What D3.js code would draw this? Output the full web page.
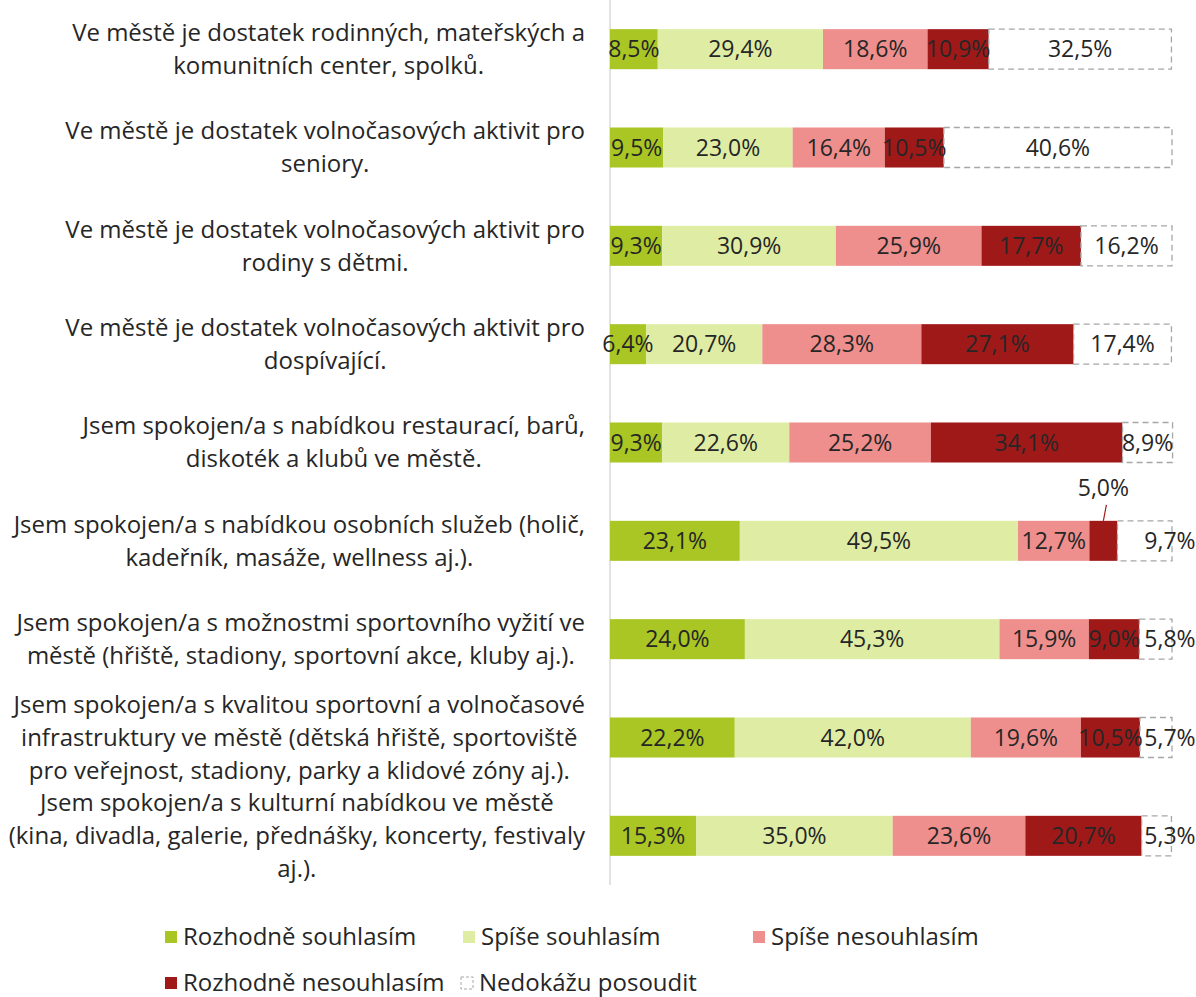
<!DOCTYPE html>
<html>
<head>
<meta charset="utf-8">
<script src="https://cdn.jsdelivr.net/npm/d3@7"></script>
<style>
  body { margin: 0; background: #fff; }
  svg { font-family: "Open Sans", sans-serif; }
</style>
</head>
<body>
<div class="chart"></div>
<script>
// data
var categories = [
    ["Ve městě je dostatek rodinných, mateřských a", "komunitních center, spolků."],
    ["Ve městě je dostatek volnočasových aktivit pro", "seniory."],
    ["Ve městě je dostatek volnočasových aktivit pro", "rodiny s dětmi."],
    ["Ve městě je dostatek volnočasových aktivit pro", "dospívající."],
    ["Jsem spokojen/a s nabídkou restaurací, barů,", "diskoték a klubů ve městě."],
    ["Jsem spokojen/a s nabídkou osobních služeb (holič,", "kadeřník, masáže, wellness aj.)."],
    ["Jsem spokojen/a s možnostmi sportovního vyžití ve", "městě (hřiště, stadiony, sportovní akce, kluby aj.)."],
    ["Jsem spokojen/a s kvalitou sportovní a volnočasové", "infrastruktury ve městě (dětská hřiště, sportoviště", "pro veřejnost, stadiony, parky a klidové zóny aj.)."],
    ["Jsem spokojen/a s kulturní nabídkou ve městě", "(kina, divadla, galerie, přednášky, koncerty, festivaly", "aj.)."]
];
var seriesNames = ["Rozhodně souhlasím", "Spíše souhlasím", "Spíše nesouhlasím", "Rozhodně nesouhlasím", "Nedokážu posoudit"];
var rozhodneSouhlasim = [8.5, 9.5, 9.3, 6.4, 9.3, 23.1, 24.0, 22.2, 15.3];
var spiseSouhlasim = [29.4, 23.0, 30.9, 20.7, 22.6, 49.5, 45.3, 42.0, 35.0];
var spiseNesouhlasim = [18.6, 16.4, 25.9, 28.3, 25.2, 12.7, 15.9, 19.6, 23.6];
var rozhodneNesouhlasim = [10.9, 10.5, 17.7, 27.1, 34.1, 5.0, 9.0, 10.5, 20.7];
var nedokazu = [32.5, 40.6, 16.2, 17.4, 8.9, 9.7, 5.8, 5.7, 5.3];
var colors = ["#a9c624", "#dfeda4", "#ee8f8d", "#a01919", "#ffffff"];

var series = [rozhodneSouhlasim, spiseSouhlasim, spiseNesouhlasim, rozhodneNesouhlasim, nedokazu];

// canvas
var width = 1196, height = 997;
var svg = d3.select(".chart").append("svg")
            .attr("width", width)
            .attr("height", height);

var x0 = 610, x1 = 1172;
var xScale = d3.scaleLinear().domain([0, 100]).range([x0, x1]);
var yScale = d3.scaleBand().domain(d3.range(categories.length)).range([0, 885])
               .paddingInner(0.593).paddingOuter(0.2965);

// stacked
var rows = categories.map(function(c, i) {
    var acc = 0;
    return series.map(function(s, k) {
        var seg = {row: i, k: k, v: s[i], start: acc, end: acc + s[i]};
        acc += s[i];
        return seg;
    });
});
var segs = [].concat.apply([], rows);

// axis line
svg.append("line")
   .attr("x1", x0).attr("x2", x0)
   .attr("y1", 0).attr("y2", 885)
   .attr("stroke", "#d9d9d9").attr("stroke-width", 1.5);

// bars
svg.selectAll("rect.seg").data(segs).enter().append("rect")
   .attr("class", "seg")
   .attr("x", function(d) { return xScale(d.start); })
   .attr("y", function(d) { return yScale(d.row); })
   .attr("width", function(d) { return xScale(d.end) - xScale(d.start); })
   .attr("height", yScale.bandwidth())
   .attr("fill", function(d) { return colors[d.k]; })
   .attr("stroke", function(d) { return d.k === 4 ? "#a6a6a6" : "none"; })
   .attr("stroke-width", 1.3)
   .attr("stroke-dasharray", function(d) { return d.k === 4 ? "6,4" : null; });

// value labels
var calloutRow = 5;
svg.selectAll("text.val").data(segs).enter().append("text")
   .attr("class", "val")
   .attr("x", function(d) {
       var c = (xScale(d.start) + xScale(d.end)) / 2;
       if (d.k === 4 && (d.v < 8.5 || d.row === calloutRow)) c = x1 - 2;
       if (d.row === calloutRow && d.k === 3) c = xScale(d.start) + 14;
       return c;
   })
   .attr("y", function(d) {
       var y = yScale(d.row) + yScale.bandwidth() / 2;
       if (d.row === calloutRow && d.k === 3) y = yScale(d.row) - 33;
       return y;
   })
   .attr("dy", "0.35em")
   .attr("text-anchor", "middle")
   .attr("font-size", 23)
   .attr("fill", "#262626")
   .text(function(d) { return d.v.toFixed(1).replace(".", ",") + "%"; });

// leader line for callout
var cs = rows[calloutRow][3];
svg.append("line")
   .attr("x1", xScale(cs.start) + 17).attr("y1", yScale(calloutRow) - 16)
   .attr("x2", xScale(cs.start) + 14).attr("y2", yScale(calloutRow))
   .attr("stroke", "#a01919").attr("stroke-width", 1.2);

// category labels
var labelRight = 585, lineH = 33;
categories.forEach(function(lines, i) {
    var g = svg.append("g");
    var cy = yScale(i) + yScale.bandwidth() / 2;
    var t = g.selectAll("text").data(lines).enter().append("text")
             .attr("font-size", 24)
             .attr("fill", "#262626")
             .attr("text-anchor", "middle")
             .attr("dy", "0.35em")
             .attr("y", function(d, j) { return cy + (j - (lines.length - 1) / 2) * lineH; })
             .text(function(d) { return d; });
    var maxW = 0;
    t.each(function() { maxW = Math.max(maxW, this.getComputedTextLength()); });
    t.attr("x", labelRight - maxW / 2);
});

// legend
var legX = [165, 463, 753], legY = [937, 983];
var leg = svg.selectAll("g.leg").data(seriesNames).enter().append("g")
   .attr("class", "leg")
   .attr("transform", function(d, i) { return "translate(" + (i === 4 ? 461 : legX[i % 3]) + "," + legY[Math.floor(i / 3)] + ")"; });
leg.append("rect")
   .attr("x", 0).attr("y", -6).attr("width", 12).attr("height", 12)
   .attr("fill", function(d, i) { return colors[i]; })
   .attr("stroke", function(d, i) { return i === 4 ? "#a6a6a6" : "none"; })
   .attr("stroke-dasharray", function(d, i) { return i === 4 ? "3,2" : null; });
leg.append("text")
   .attr("x", 18).attr("dy", "0.35em")
   .attr("font-size", 24)
   .attr("fill", "#262626")
   .text(function(d) { return d; });
</script>
</body>
</html>
